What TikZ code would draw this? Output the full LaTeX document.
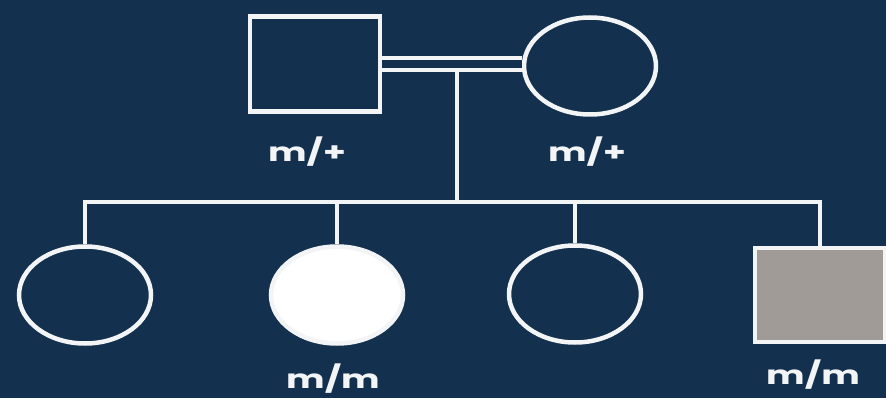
\documentclass[tikz,border=0pt]{standalone}
\usepackage{fontspec}
\setmainfont{Poppins}
\usetikzlibrary{shapes.geometric}
\definecolor{bg}{HTML}{13314F}
\definecolor{ln}{HTML}{F2F4F6}
\definecolor{grey}{HTML}{A19B97}
\tikzset{
  person/.style={draw=ln, line width=4.5pt, inner sep=0pt},
  male/.style={person, rectangle, minimum width=130pt, minimum height=95pt},
  female/.style={person, ellipse, minimum width=132pt, minimum height=97pt},
  conn/.style={draw=ln, line width=4.5pt},
  lbl/.style={text=ln, font=\fontsize{26}{26}\selectfont\bfseries, inner sep=0pt, xscale=1.4}
}
\begin{document}
\begin{tikzpicture}[x=1pt,y=-1pt]
\fill[bg] (0,0) rectangle (886,398);
\useasboundingbox (0,0) rectangle (886,398);
% parents
\node[male] (f) at (315,64) {};
\node[female] (m) at (590,66) {};
\node[lbl] (lf) at (307,152) {m/+};
\node[lbl] (lm) at (587,152) {m/+};
% marriage line
\draw[draw=ln, line width=4pt, double=bg, double distance=8pt] (f.east |- 0,64) -- (m.west |- 0,64);
\coordinate (mar) at (457,70);
\coordinate (sib) at (457,202);
\draw[conn] (mar) -- (sib);
% children
\node[female] (c1) at (85,295) {};
\node[female, fill=white] (c2) at (337,295) {};
\node[female] (c3) at (575,294) {};
\node[male, fill=grey, minimum height=94pt] (c4) at (820,295) {};
\node[lbl] (l2) at (333,379) {m/m};
\node[lbl] (l4) at (813,375) {m/m};
% sibship line
\draw[conn] (c1.north) |- (sib) -| (c4.north);
\draw[conn] (c2.north) -- (c2.north |- sib);
\draw[conn] (c3.north) -- (c3.north |- sib);
\end{tikzpicture}
\end{document}
